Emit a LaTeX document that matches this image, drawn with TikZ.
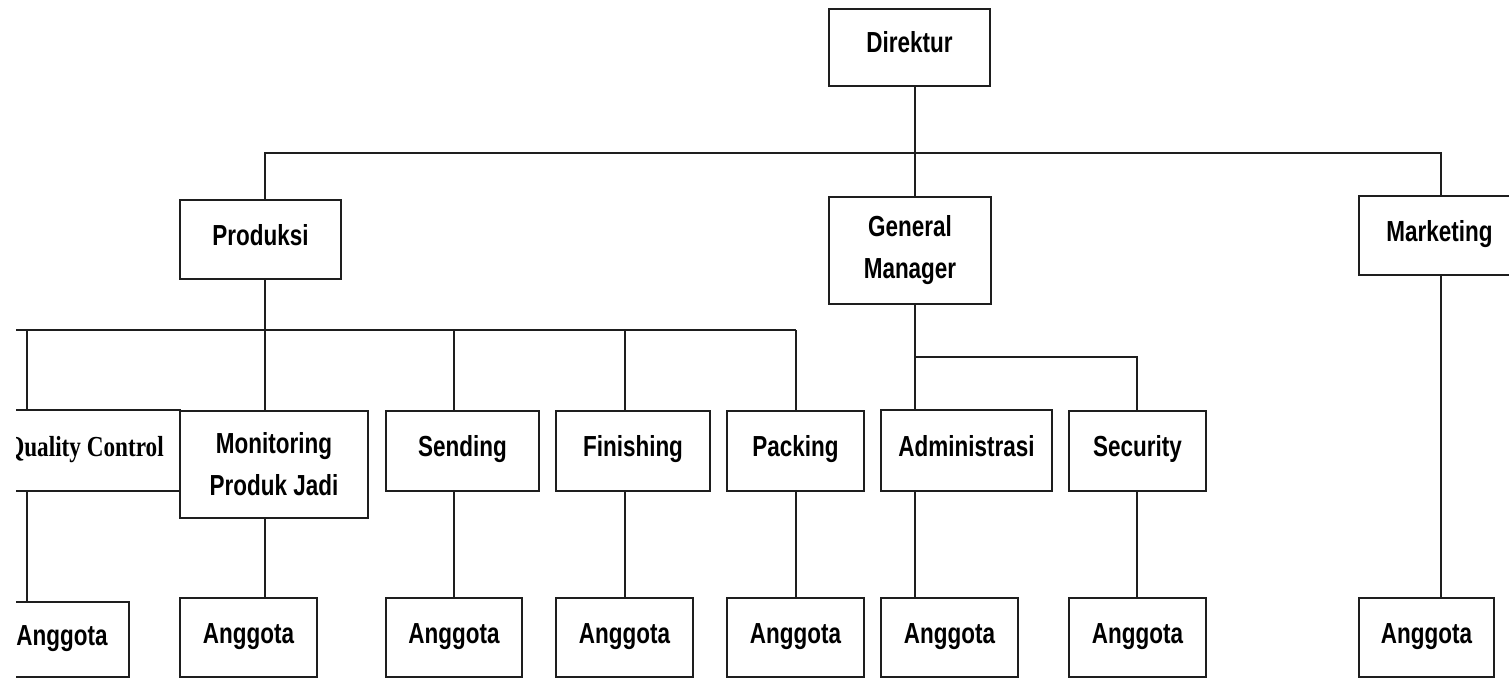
\documentclass[tikz,border=0pt]{standalone}
\usepackage{fontspec}
\setmainfont{Liberation Sans}[FakeStretch=0.775]
\newfontfamily\qcfont{Liberation Serif}[FakeStretch=0.8]
\definecolor{linec}{HTML}{1E1E1E}
\begin{document}
\begin{tikzpicture}[x=1pt,y=-1pt,
  box/.style={draw=linec, line width=1.8pt, inner sep=0pt, text height=21pt, text depth=10pt, font=\fontsize{29}{42}\selectfont\bfseries},
  boxtwo/.style={draw=linec, line width=1.8pt, inner sep=0pt, align=center, font=\fontsize{29}{42}\selectfont\bfseries},
  conn/.style={draw=linec, line width=1.5pt}]
\useasboundingbox[fill=white] (0,0) rectangle (1509,679);
\clip (16,0) rectangle (1509,679);

% level 0 and 1
\node[box, minimum width=161pt, minimum height=77pt] (dir) at (909.5,47.5) {Direktur};
\node[box, minimum width=161pt, minimum height=79pt] (prod) at (260.5,239.5) {Produksi};
\node[boxtwo, minimum width=162pt, minimum height=107pt] (gm) at (910,250.5) {General\\Manager};
\node[box, minimum width=161pt, minimum height=79pt] (mkt) at (1439.5,235.5) {Marketing};

% level 2
\node[box, minimum width=200pt, minimum height=81pt, font=\fontsize{29}{42}\qcfont\bfseries] (qc) at (80,450.5) {\hspace*{10pt}Quality Control};
\node[boxtwo, minimum width=188pt, minimum height=107pt] (mon) at (274,464.5) {Monitoring\\Produk Jadi};
\node[box, minimum width=153pt, minimum height=80pt] (snd) at (462.5,451) {Sending};
\node[box, minimum width=154pt, minimum height=80pt] (fin) at (633,451) {Finishing};
\node[box, minimum width=137pt, minimum height=80pt] (pck) at (795.5,451) {Packing};
\node[box, minimum width=171pt, minimum height=81pt] (adm) at (966.5,450.5) {Administrasi};
\node[box, minimum width=137pt, minimum height=80pt] (sec) at (1137.5,451) {Security};

% level 3
\node[box, minimum width=134pt, minimum height=75pt] (aqc) at (62,639.5) {Anggota};
\node[box, minimum width=137pt, minimum height=79pt] (amon) at (248.5,637.5) {Anggota};
\node[box, minimum width=136pt, minimum height=79pt] (asnd) at (454,637.5) {Anggota};
\node[box, minimum width=137pt, minimum height=79pt] (afin) at (624.5,637.5) {Anggota};
\node[box, minimum width=137pt, minimum height=79pt] (apck) at (795.5,637.5) {Anggota};
\node[box, minimum width=137pt, minimum height=79pt] (aadm) at (949.5,637.5) {Anggota};
\node[box, minimum width=137pt, minimum height=79pt] (asec) at (1137.5,637.5) {Anggota};
\node[box, minimum width=135pt, minimum height=79pt] (amkt) at (1426.5,637.5) {Anggota};

% junction coordinates
\coordinate (vD) at (915,153);
\coordinate (vP) at (265,153);
\coordinate (vM) at (1441,153);
\coordinate (busL) at (0,330);
\coordinate (vQ) at (27,330);
\coordinate (vMo) at (265,330);
\coordinate (vS) at (454,330);
\coordinate (vF) at (625,330);
\coordinate (vPk) at (796,330);
\coordinate (vA) at (915,357);
\coordinate (vSe) at (1137,357);

% top level connectors
\draw[conn] (dir.south -| vD) -- (gm.north -| vD);
\draw[conn] (prod.north -| vP) |- (vD) -| (mkt.north -| vM);

% produksi branch
\draw[conn] (prod.south -| vP) -- (mon.north -| vMo);
\draw[conn] (busL) -- (vPk);
\draw[conn] (vQ) -- (qc.north -| vQ);
\draw[conn] (vS) -- (snd.north -| vS);
\draw[conn] (vF) -- (fin.north -| vF);
\draw[conn] (vPk) -- (pck.north -| vPk);

% general manager branch
\draw[conn] (gm.south -| vA) -- (adm.north -| vA);
\draw[conn] (vA) -| (sec.north -| vSe);

% to members
\draw[conn] (qc.south -| vQ) -- (aqc.north -| vQ);
\draw[conn] (mon.south -| vMo) -- (amon.north -| vMo);
\draw[conn] (snd.south -| vS) -- (asnd.north -| vS);
\draw[conn] (fin.south -| vF) -- (afin.north -| vF);
\draw[conn] (pck.south -| vPk) -- (apck.north -| vPk);
\draw[conn] (adm.south -| vA) -- (aadm.north -| vA);
\draw[conn] (sec.south -| vSe) -- (asec.north -| vSe);
\draw[conn] (mkt.south -| vM) -- (amkt.north -| vM);
\end{tikzpicture}
\end{document}
